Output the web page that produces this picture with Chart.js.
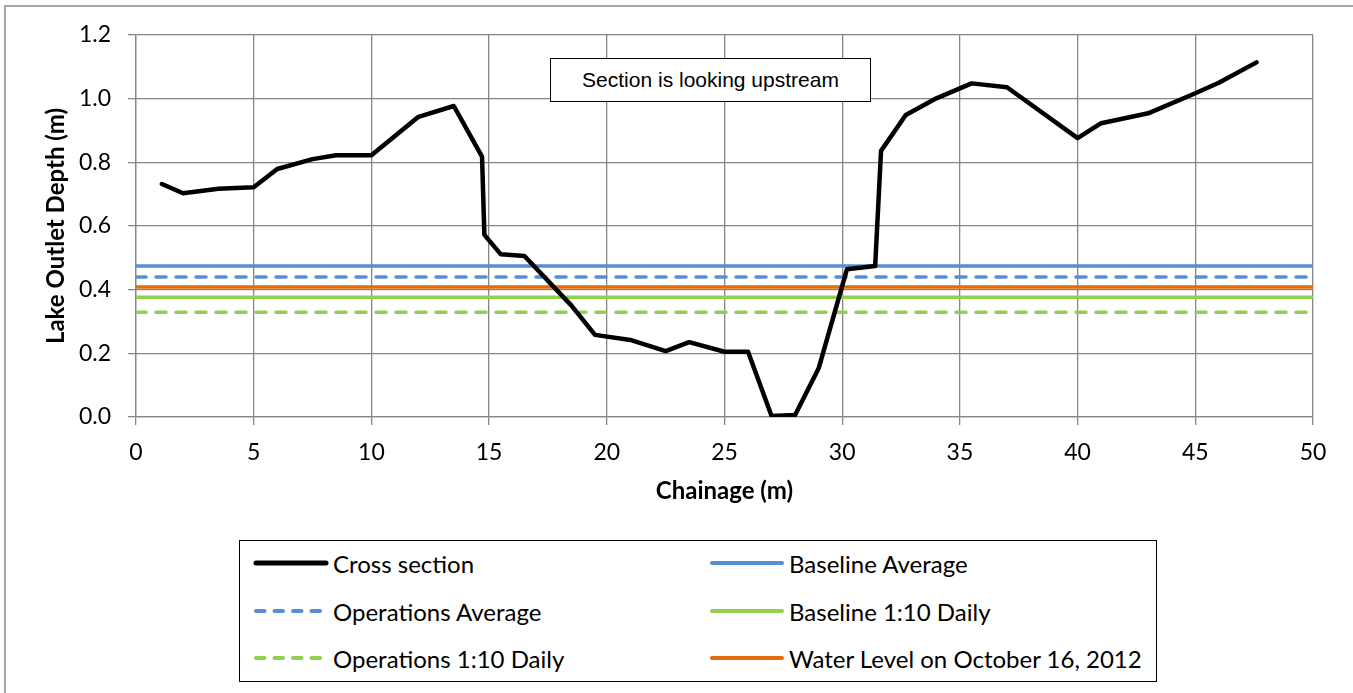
<!DOCTYPE html>
<html>
<head>
<meta charset="utf-8">
<script src="https://cdn.jsdelivr.net/npm/chart.js@4/dist/chart.umd.min.js"></script>
<style>
  body { margin: 0; background: #fff; font-family: Lato, sans-serif; }
  #frame { position: absolute; left: 4px; top: 5px; width: 1370px; height: 720px; border: 2px solid #a6a6a6; box-sizing: border-box; }
  #wrap { position: absolute; left: 0; top: 0; width: 1353px; height: 520px; }
  #note { position: absolute; left: 550px; top: 58px; width: 321px; height: 44px; box-sizing: border-box;
          border: 1.5px solid #000; background: #fff; font-family: "Liberation Sans", Arial, sans-serif;
          font-size: 21px; line-height: 42px; text-align: center; }
  #legend { position: absolute; left: 239px; top: 540px; width: 918px; height: 142px; box-sizing: border-box; border: 1.5px solid #000; background: #fff; }
  .item { position: absolute; height: 30px; display: flex; align-items: center; font-size: 24px; white-space: nowrap; }
  .item svg { margin-right: 4px; }
</style>
</head>
<body>
<div id="frame"></div>
<div id="wrap"><canvas id="myChart" width="1353" height="520"></canvas></div>
<div id="note">Section is looking upstream</div>
<div id="legend"></div>
<script>
// cross section
var chainage = [1.1, 2.0, 3.5, 5.0, 6.0, 7.5, 8.5, 10.0, 12.0, 13.5, 14.7, 14.8, 15.5, 16.5, 18.5, 19.5, 21.0, 22.5, 23.5, 25.0, 26.0, 27.0, 28.0, 29.0, 30.2, 31.4, 31.65, 32.7, 34.0, 35.5, 37.0, 40.0, 41.0, 43.0, 45.0, 46.0, 47.6];
var depth = [0.732, 0.703, 0.717, 0.722, 0.779, 0.81, 0.822, 0.822, 0.943, 0.977, 0.818, 0.572, 0.511, 0.506, 0.35, 0.258, 0.242, 0.207, 0.235, 0.205, 0.205, 0.003, 0.006, 0.153, 0.464, 0.474, 0.836, 0.949, 1.001, 1.048, 1.036, 0.876, 0.923, 0.954, 1.017, 1.05, 1.114];

// horizontal reference levels
var levelNames = ["Baseline Average", "Operations Average", "Baseline 1:10 Daily", "Operations 1:10 Daily", "Water Level on October 16, 2012"];
var levelValues = [0.474, 0.44, 0.376, 0.329, 0.408];
var levelColors = ["#558ed5", "#558ed5", "#92d050", "#92d050", "#e46c0a"];
var levelDashed = [false, true, false, true, false];
var xRange = [0, 50];

var grey = "#868686";

var datasets = [{
  label: "Cross section",
  data: chainage.map(function (x, i) { return { x: x, y: depth[i] }; }),
  borderColor: "#000",
  borderWidth: 4.5,
  borderJoinStyle: "round",
  borderCapStyle: "round",
  pointRadius: 0,
  tension: 0
}];

for (var i = 0; i < levelNames.length; i++) {
  datasets.push({
    label: levelNames[i],
    data: [{ x: xRange[0], y: levelValues[i] }, { x: xRange[1], y: levelValues[i] }],
    borderColor: levelColors[i],
    borderWidth: 3.5,
    borderCapStyle: levelDashed[i] ? "round" : "butt",
    borderDash: levelDashed[i] ? [10, 10] : [],
    pointRadius: 0
  });
}

var ctx = document.getElementById("myChart");

var myChart = new Chart(ctx, {
  type: "line",
  data: { datasets: datasets },
  options: {
    responsive: false,
    animation: false,
    layout: { padding: { left: 0, top: 35, right: 40, bottom: 0 } },
    plugins: { legend: { display: false }, tooltip: { enabled: false } },
    scales: {
      x: {
        type: "linear",
        min: 0, max: 50,
        afterFit: function (scale) { scale.height = 103; },
        ticks: { stepSize: 5, color: "#000", padding: 14, font: { family: "Lato", size: 23 } },
        grid: { color: grey, lineWidth: 1.3, tickLength: 8 },
        border: { color: grey, width: 1.3 },
        title: { display: true, text: "Chainage (m)", color: "#000", padding: { top: 0, bottom: 14 },
                 font: { family: "Lato", size: 24, weight: "bold" } }
      },
      y: {
        min: 0, max: 1.2,
        afterFit: function (scale) { scale.width = 136; },
        ticks: { stepSize: 0.2, color: "#000", padding: 17, font: { family: "Lato", size: 23 },
                 callback: function (v) { return v.toFixed(1); } },
        grid: { color: grey, lineWidth: 1.3, tickLength: 8 },
        border: { color: grey, width: 1.3 },
        title: { display: true, text: "Lake Outlet Depth (m)", color: "#000", padding: { top: 42, bottom: 0 },
                 font: { family: "Lato", size: 24, weight: "bold" } }
      }
    }
  }
});

// legend in two columns like the original
var legend = document.getElementById("legend");
var rowsY = [7, 55, 102];
var colsX = [13, 469];
for (var k = 0; k < datasets.length; k++) {
  var ds = datasets[k];
  var item = document.createElement("div");
  item.className = "item";
  item.style.left = colsX[k % 2] + "px";
  item.style.top = rowsY[Math.floor(k / 2)] + "px";
  var dash = ds.borderDash && ds.borderDash.length ? 'stroke-dasharray="8.5 10"' : "";
  item.innerHTML = '<svg width="76" height="10"><line x1="3" y1="5" x2="73" y2="5" stroke="' + ds.borderColor +
    '" stroke-width="' + (ds.borderWidth + 0.5) + '" stroke-linecap="round" ' + dash + '/></svg><span>' + ds.label + '</span>';
  legend.appendChild(item);
}
</script>
</body>
</html>
